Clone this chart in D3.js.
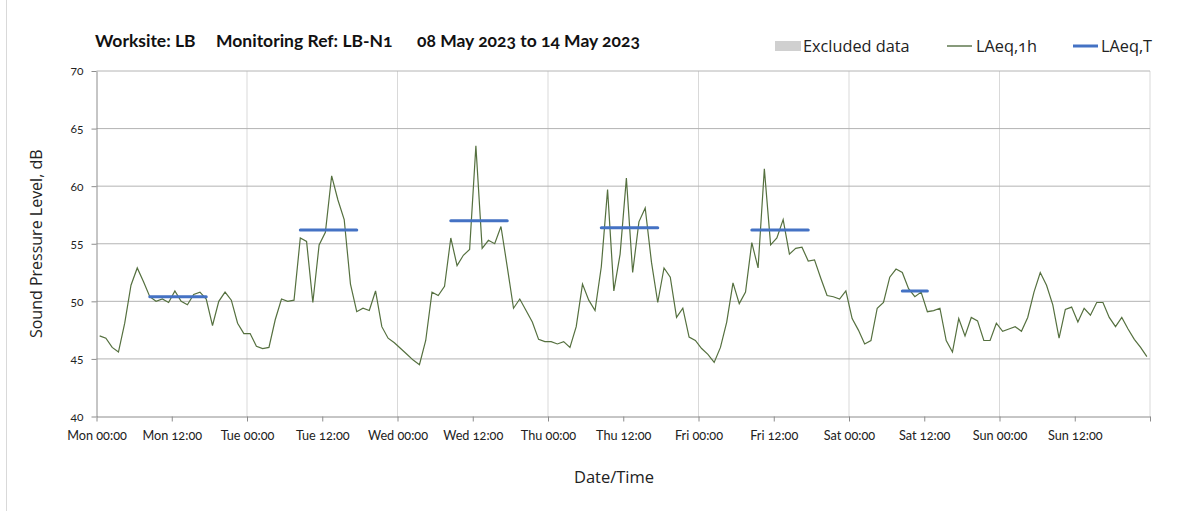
<!DOCTYPE html>
<html>
<head>
<meta charset="utf-8">
<script src="https://cdn.jsdelivr.net/npm/d3@7"></script>
<style>
  body { margin: 0; background: #fff; }
  svg { display: block; font-family: Lato, "Open Sans", sans-serif; font-variant-numeric: oldstyle-nums; }
</style>
</head>
<body>
<div id="chart"></div>
<script>
// hourly LAeq,1h values, one array per day (points sit at the middle of each hour)
const monday    = [47.0, 46.8, 46.0, 45.6, 48.1, 51.4, 52.9, 51.7, 50.4, 50.0, 50.2, 49.9, 50.9, 50.0, 49.7, 50.6, 50.8, 50.2, 47.9, 50.0, 50.8, 50.1, 48.1, 47.2];
const tuesday   = [47.2, 46.1, 45.9, 46.0, 48.4, 50.2, 50.0, 50.1, 55.5, 55.2, 49.9, 54.9, 56.0, 60.9, 58.8, 57.1, 51.5, 49.1, 49.4, 49.2, 50.9, 47.8, 46.8, 46.4];
const wednesday = [45.9, 45.4, 44.9, 44.5, 46.6, 50.8, 50.5, 51.3, 55.5, 53.1, 54.0, 54.5, 63.5, 54.6, 55.3, 55.0, 56.5, 53.0, 49.4, 50.2, 49.2, 48.2, 46.7, 46.5];
const thursday  = [46.5, 46.3, 46.5, 46.0, 47.8, 51.5, 50.1, 49.2, 53.0, 59.7, 50.9, 54.1, 60.7, 52.5, 56.9, 58.1, 53.4, 49.9, 52.9, 52.1, 48.6, 49.4, 46.9, 46.6];
const friday    = [45.9, 45.4, 44.7, 46.0, 48.2, 51.6, 49.8, 50.8, 55.1, 52.9, 61.5, 54.9, 55.5, 57.1, 54.1, 54.6, 54.7, 53.5, 53.6, 52.0, 50.5, 50.4, 50.2, 50.9];
const saturday  = [48.5, 47.5, 46.3, 46.6, 49.4, 49.9, 52.1, 52.8, 52.5, 51.1, 50.4, 50.8, 49.1, 49.2, 49.4, 46.6, 45.6, 48.5, 47.0, 48.6, 48.3, 46.6, 46.6, 48.1];
const sunday    = [47.4, 47.6, 47.8, 47.4, 48.6, 50.8, 52.5, 51.4, 49.7, 46.8, 49.3, 49.5, 48.2, 49.4, 48.8, 49.9, 49.9, 48.6, 47.8, 48.6, 47.6, 46.7, 46.0, 45.2];

// LAeq,T over the working period of each day (hours from the start of the day)
const tDays   = [0, 1, 2, 3, 4, 5];
const tFrom   = [8.5, 8.5, 8.5, 8.5, 8.5, 8.5];
const tTo     = [17.5, 17.5, 17.5, 17.5, 17.5, 12.5];
const tValues = [50.4, 56.2, 57.0, 56.4, 56.2, 50.9];

const dayNames = ["Mon", "Tue", "Wed", "Thu", "Fri", "Sat", "Sun"];
const yTicks = [40, 45, 50, 55, 60, 65, 70];

const width = 1203, height = 511;
const plotLeft = 96.5, plotRight = 1150, plotTop = 71, plotBottom = 416.5;
const labelFont = "'Open Sans', sans-serif";

const hourly = [monday, tuesday, wednesday, thursday, friday, saturday, sunday]
  .flatMap((day, d) => day.map((v, h) => ({t: d * 24 + h + 0.5, v})));

const periods = tDays.map((d, i) => ({from: d * 24 + tFrom[i], to: d * 24 + tTo[i], v: tValues[i]}));

const x = d3.scaleLinear().domain([0, 168]).range([plotLeft, plotRight]);
const y = d3.scaleLinear().domain([40, 70]).range([plotBottom, plotTop]);

const svg = d3.select("#chart").append("svg")
  .attr("width", width)
  .attr("height", height);

// frame edge on the left
svg.append("line")
  .attr("x1", 6.5).attr("x2", 6.5).attr("y1", 0).attr("y2", height)
  .attr("stroke", "#d9d9d9");

// gridlines
svg.append("g")
  .selectAll("line")
  .data(d3.range(24, 169, 24))
  .join("line")
    .attr("x1", d => x(d)).attr("x2", d => x(d))
    .attr("y1", plotTop).attr("y2", plotBottom)
    .attr("stroke", "#d9d9d9");

svg.append("g")
  .selectAll("line")
  .data(yTicks.slice(1))
  .join("line")
    .attr("x1", plotLeft).attr("x2", plotRight)
    .attr("y1", d => y(d)).attr("y2", d => y(d))
    .attr("stroke", "#b4b4b4");

// axes
const yAxis = svg.append("g")
  .attr("transform", `translate(${plotLeft},0)`)
  .call(d3.axisLeft(y).tickValues(yTicks).tickSize(5).tickPadding(8).tickSizeOuter(0));
yAxis.select(".domain").attr("stroke", "#8c8c8c");
yAxis.selectAll(".tick line").attr("stroke", "#8c8c8c");
yAxis.selectAll("text").attr("font-size", 12).attr("fill", "#222").attr("font-family", "Lato, sans-serif");

const xAxis = svg.append("g")
  .attr("transform", `translate(0,${plotBottom})`)
  .call(d3.axisBottom(x)
    .tickValues(d3.range(0, 169, 12))
    .tickSize(5).tickPadding(9).tickSizeOuter(0)
    .tickFormat(d => d >= 168 ? "" : `${dayNames[Math.floor(d / 24)]} ${d % 24 === 0 ? "00:00" : "12:00"}`));
xAxis.select(".domain").attr("stroke", "#8c8c8c");
xAxis.selectAll(".tick line").attr("stroke", "#8c8c8c");
xAxis.selectAll("text").attr("font-size", 12.7).attr("fill", "#222").attr("font-family", "Lato, sans-serif");

// LAeq,1h line
svg.append("path")
  .datum(hourly)
  .attr("fill", "none")
  .attr("stroke", "#55703f")
  .attr("stroke-width", 1.2)
  .attr("d", d3.line().x(d => x(d.t)).y(d => y(d.v)));

// LAeq,T bars
svg.append("g")
  .selectAll("line")
  .data(periods)
  .join("line")
    .attr("x1", d => x(d.from)).attr("x2", d => x(d.to))
    .attr("y1", d => y(d.v)).attr("y2", d => y(d.v))
    .attr("stroke", "#4472c4")
    .attr("stroke-width", 3)
    .attr("stroke-linecap", "round");

// title
const title = svg.append("text")
  .attr("y", 47)
  .attr("font-size", 17.5)
  .attr("font-weight", "bold")
  .attr("fill", "#111");
title.append("tspan").attr("x", 95).text("Worksite: LB");
title.append("tspan").attr("x", 216).text("Monitoring Ref: LB-N1");
title.append("tspan").attr("x", 417).text("08 May 2023 to 14 May 2023");

// legend
const legend = svg.append("g").attr("font-size", 16.3).attr("font-family", labelFont).attr("fill", "#222");
legend.append("rect").attr("x", 775).attr("y", 41).attr("width", 26).attr("height", 10).attr("fill", "#d0d0d0");
legend.append("text").attr("x", 803).attr("y", 51.5).text("Excluded data");
legend.append("line").attr("x1", 947).attr("x2", 972).attr("y1", 46).attr("y2", 46).attr("stroke", "#375623").attr("stroke-width", 1.2);
legend.append("text").attr("x", 976).attr("y", 51.5).text("LAeq,1h");
legend.append("line").attr("x1", 1073).attr("x2", 1098).attr("y1", 46).attr("y2", 46).attr("stroke", "#4472c4").attr("stroke-width", 3);
legend.append("text").attr("x", 1101).attr("y", 51.5).text("LAeq,T");

// axis titles
svg.append("text")
  .attr("transform", `translate(42,${(plotTop + plotBottom) / 2}) rotate(-90)`)
  .attr("text-anchor", "middle")
  .attr("font-size", 16)
  .attr("font-family", labelFont)
  .attr("fill", "#222")
  .text("Sound Pressure Level, dB");

svg.append("text")
  .attr("x", 614).attr("y", 483)
  .attr("text-anchor", "middle")
  .attr("font-size", 16.5)
  .attr("font-family", labelFont)
  .attr("fill", "#222")
  .text("Date/Time");
</script>
</body>
</html>
